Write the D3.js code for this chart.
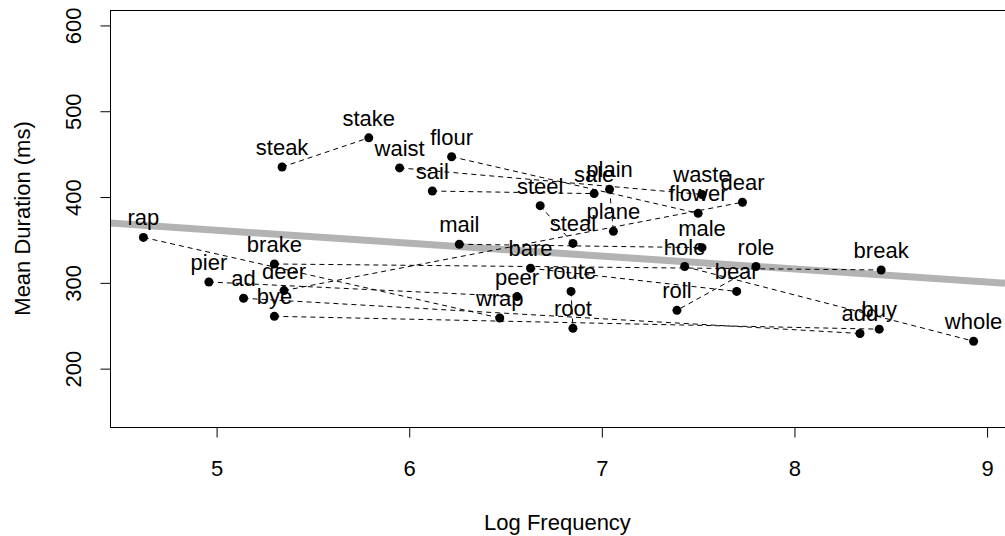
<!DOCTYPE html>
<html>
  <head>
    <meta charset="utf-8">
    <title>homophone durations</title>
    <script src="https://cdn.jsdelivr.net/npm/d3@7"></script>
    <style>
body {
    margin: 0;
    background: #fff;
}
text {
    font-family: "Liberation Sans", Arial, sans-serif;
    font-size: 22px;
    fill: #000;
}
.pair {
    stroke: #000;
    stroke-width: 1;
    stroke-dasharray: 5,4;
    fill: none;
}
.fit {
    stroke: #b3b3b3;
    stroke-width: 7;
}
    </style>
  </head>
  <body>
    <script>
// words
var words = ["rap", "steak", "stake", "waist", "sail", "flour", "steel", "sale",
  "plain", "plane", "steal", "mail", "waste", "flower", "dear", "male",
  "hole", "role", "break", "bare", "brake", "pier", "deer", "ad",
  "peer", "route", "bear", "roll", "bye", "wrap", "root", "add", "buy", "whole"];

var logFreq = [4.62, 5.34, 5.79, 5.95, 6.12, 6.22, 6.68, 6.96,
  7.04, 7.06, 6.85, 6.26, 7.52, 7.50, 7.73, 7.52,
  7.43, 7.80, 8.45, 6.63, 5.30, 4.96, 5.35, 5.14,
  6.56, 6.84, 7.70, 7.39, 5.30, 6.47, 6.85, 8.34, 8.44, 8.93];

var meanDur = [353, 435, 469, 434, 407, 447, 390, 404,
  409, 360, 346, 345, 403, 381, 394, 341,
  319, 319, 315, 317, 322, 301, 291, 282,
  284, 290, 290, 268, 261, 259, 247, 241, 246, 232];

// homophone pairs joined by dashed lines
var pairs = [["steak", "stake"], ["waist", "waste"], ["flour", "flower"],
  ["sail", "sale"], ["plain", "plane"], ["steel", "steal"], ["mail", "male"],
  ["bare", "bear"], ["hole", "whole"], ["role", "roll"], ["brake", "break"],
  ["pier", "peer"], ["ad", "add"], ["deer", "dear"], ["bye", "buy"],
  ["wrap", "rap"], ["route", "root"]];

// regression line: intercept, slope
var fit = [436.6, -15.06];

var xTicks = [5, 6, 7, 8, 9];
var yTicks = [200, 300, 400, 500, 600];

var width = 1005,
    height = 536;
var plotL = 110, plotT = 10, plotB = 427, plotR = 1005;

var x = d3.scaleLinear().domain([4.4466, 9.093]).range([plotL, plotR]);
var y = d3.scaleLinear().domain([132, 618]).range([plotB, plotT]);

var svg = d3.select("body")
  .append("svg")
  .attr("width", width)
  .attr("height", height);

var pts = words.map(function(w, i) {
  return {word: w, x: logFreq[i], y: meanDur[i]};
});
var byWord = {};
pts.forEach(function(p) { byWord[p.word] = p; });

svg.append("clipPath")
  .attr("id", "plotclip")
  .append("rect")
  .attr("x", plotL)
  .attr("y", plotT)
  .attr("width", plotR - plotL)
  .attr("height", plotB - plotT);

var xd = x.domain();
svg.append("line")
  .attr("class", "fit")
  .attr("clip-path", "url(#plotclip)")
  .attr("x1", x(xd[0]))
  .attr("y1", y(fit[0] + fit[1] * xd[0]))
  .attr("x2", x(xd[1]))
  .attr("y2", y(fit[0] + fit[1] * xd[1]));

svg.selectAll("line.pair")
  .data(pairs)
  .enter()
  .append("line")
  .attr("class", "pair")
  .attr("x1", function(d) { return x(byWord[d[0]].x); })
  .attr("y1", function(d) { return y(byWord[d[0]].y); })
  .attr("x2", function(d) { return x(byWord[d[1]].x); })
  .attr("y2", function(d) { return y(byWord[d[1]].y); });

svg.selectAll("circle.pt")
  .data(pts)
  .enter()
  .append("circle")
  .attr("class", "pt")
  .attr("cx", function(d) { return x(d.x); })
  .attr("cy", function(d) { return y(d.y); })
  .attr("r", 4.5)
  .attr("fill", "#000");

svg.selectAll("text.lab")
  .data(pts)
  .enter()
  .append("text")
  .attr("class", "lab")
  .attr("x", function(d) { return x(d.x); })
  .attr("y", function(d) { return y(d.y) - 12; })
  .attr("text-anchor", "middle")
  .text(function(d) { return d.word; });

// box
svg.append("rect")
  .attr("x", plotL + 0.5)
  .attr("y", plotT + 0.5)
  .attr("width", plotR - plotL + 20)
  .attr("height", plotB - plotT)
  .attr("fill", "none")
  .attr("stroke", "#000");

// axes
var xAxis = svg.append("g")
  .attr("transform", "translate(0," + (plotB + 0.5) + ")")
  .call(d3.axisBottom(x).tickValues(xTicks).tickSize(10).tickSizeOuter(0).tickFormat(d3.format("d")));
xAxis.select(".domain").remove();
xAxis.selectAll("line").attr("stroke", "#000");
xAxis.selectAll("text")
  .attr("y", 41)
  .attr("dy", null)
  .attr("dominant-baseline", "central")
  .style("font-size", "22px")
  .style("font-family", "Liberation Sans, Arial, sans-serif");

var yAxis = svg.append("g")
  .attr("transform", "translate(" + (plotL + 0.5) + ",0)")
  .call(d3.axisLeft(y).tickValues(yTicks).tickSize(10).tickSizeOuter(0).tickFormat(d3.format("d")));
yAxis.select(".domain")
  .attr("d", "M0," + y(200) + "V" + y(600));
yAxis.selectAll("line").attr("stroke", "#000");
yAxis.selectAll("text")
  .attr("x", null)
  .attr("dy", null)
  .attr("text-anchor", "middle")
  .attr("dominant-baseline", "central")
  .attr("transform", "translate(-37,0) rotate(-90)")
  .style("font-size", "22px")
  .style("font-family", "Liberation Sans, Arial, sans-serif");

svg.append("text")
  .attr("x", (plotL + plotR) / 2)
  .attr("y", 522)
  .attr("text-anchor", "middle")
  .attr("dominant-baseline", "central")
  .text("Log Frequency");

svg.append("text")
  .attr("transform", "translate(22," + ((plotT + plotB) / 2) + ") rotate(-90)")
  .attr("text-anchor", "middle")
  .attr("dominant-baseline", "central")
  .text("Mean Duration (ms)");
    </script>
  </body>
</html>
